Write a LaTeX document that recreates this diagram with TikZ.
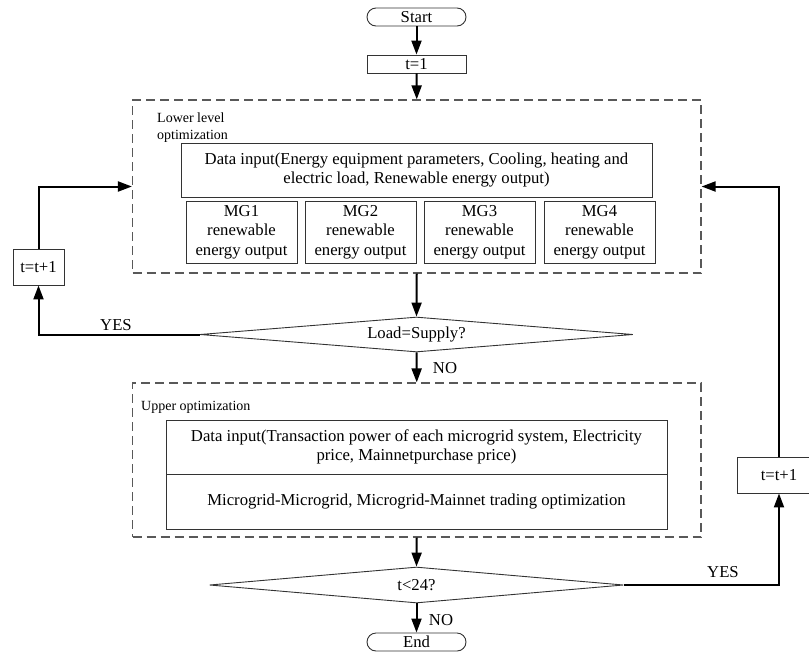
\documentclass[tikz,border=0pt]{standalone}
\usepackage{fontspec}
\setmainfont{Liberation Serif}
\usetikzlibrary{arrows.meta,shapes.geometric}
\begin{document}
\begin{tikzpicture}[x=1pt,y=-1pt,
  font=\fontsize{16.7}{19.5}\selectfont,
  box/.style={draw=black!80, line width=0.9pt, inner sep=0pt, align=center},
  term/.style={box, rounded corners=9pt, minimum width=99pt, minimum height=18pt},
  grp/.style={draw=black!65, dash pattern=on 9pt off 5pt, line width=1.2pt, inner sep=0pt},
  dec/.style={draw=black!80, line width=0.9pt, diamond, inner sep=0pt, shape aspect=12},
  flow/.style={line width=2pt, -{Triangle[length=14pt,width=10pt]}},
  lbl/.style={inner sep=0pt},
  small/.style={font=\fontsize{14}{17}\selectfont, inner sep=0pt}
]
\clip (0,0) rectangle (809,654);

% start and initialisation
\node[term] (start) at (416.5,17) {Start};
\node[box, minimum width=99pt, minimum height=18pt] (t1) at (416.5,64) {t=1};

% lower level optimization group
\node[grp, minimum width=568.5pt, minimum height=173pt] (lower) at (416.75,186.5) {};
\node[small, anchor=north west, align=left] (lowlbl) at (157,113) {Lower level\\optimization};
\node[box, minimum width=471pt, minimum height=54pt] (data) at (416.5,170)
  {Data input(Energy equipment parameters, Cooling, heating and\\electric load, Renewable energy output)};
\node[box, minimum width=111pt, minimum height=62pt] (mg1) at (241.5,232) {MG1\\renewable\\energy output};
\node[box, minimum width=111pt, minimum height=62pt] (mg2) at (360.5,232) {MG2\\renewable\\energy output};
\node[box, minimum width=111pt, minimum height=62pt] (mg3) at (479.5,232) {MG3\\renewable\\energy output};
\node[box, minimum width=111pt, minimum height=62pt] (mg4) at (599.5,232) {MG4\\renewable\\energy output};

% balance check
\node[dec, minimum width=433pt, minimum height=35pt] (d1) at (416.5,334.5) {Load=Supply?};
\node[box, minimum width=51pt, minimum height=36pt] (linc) at (38.5,267) {t=t+1};
\node[lbl] (yes1) at (116,325) {YES};
\node[lbl] (no1) at (445,368) {NO};

% upper optimization group
\node[grp, minimum width=568.5pt, minimum height=154pt] (upper) at (416.75,460) {};
\node[small, anchor=west] (uplbl) at (141,407) {Upper optimization};
\node[box, minimum width=501pt, minimum height=54pt] (data2) at (416.5,447)
  {Data input(Transaction power of each microgrid system, Electricity\\price, Mainnetpurchase price)};
\node[box, minimum width=501pt, minimum height=55pt] (trade) at (416.5,501.5)
  {Microgrid-Microgrid, Microgrid-Mainnet trading optimization};

% time loop
\node[dec, minimum width=414pt, minimum height=36pt] (d2) at (416.5,585) {t<24?};
\node[term] (end) at (416.5,642) {End};
\node[lbl] (no2) at (441,620) {NO};
\node[box, minimum width=84pt, minimum height=36pt] (rinc) at (779,475) {t=t+1};
\node[lbl] (yes2) at (723,572) {YES};

% connectors
\draw[flow] (start) -- (t1);
\draw[flow] (t1) -- (lower.north);
\draw[flow] (lower.south) -- (d1.north);
\draw[flow] (d1.west) -| (linc.south);
\draw[flow] (linc.north) |- (lower.west);
\draw[flow] (d1.south) -- (upper.north);
\draw[flow] (upper.south) -- (d2.north);
\draw[flow] (d2.south) -- (end.north);
\draw[flow] (d2.east) -| (rinc.south);
\draw[flow] (rinc.north) |- (lower.east);
\end{tikzpicture}
\end{document}
